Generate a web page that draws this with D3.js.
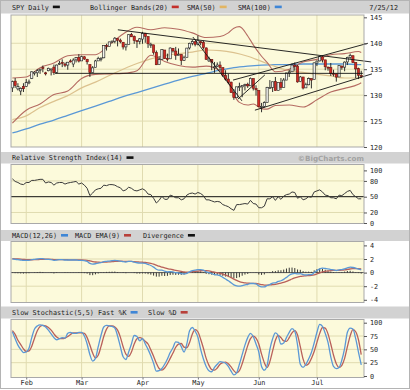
<!DOCTYPE html>
<html>
<head>
<meta charset="utf-8">
<script src="https://cdn.jsdelivr.net/npm/d3@7"></script>
<style>
  html, body { margin: 0; padding: 0; background: #fff; }
  svg { display: block; }
  text { font-family: "DejaVu Sans Mono", monospace; font-size: 6.8px; fill: #1e1e1e; }
</style>
</head>
<body>
<svg id="chart" width="410" height="390"></svg>
<script>
// ---- SPY daily, 25 Jan 2012 .. 25 Jul 2012 (trading-day index 0..126) ----
const opens = [131.4,132.7,131.2,130.8,131.7, 131.7,132.5,133.2,134.2,134.3, 134.8,135.3,134.3,134.7,134.9,
  135.4,134.4,136.1,136.3,136.0, 135.8,136.6,136.0,136.8,137.3, 136.6,137.4,136.9,135.9,134.4,
  135.3,136.6,137.1,137.2,139.6, 139.4,140.3,140.4,140.9,140.6, 140.2,139.3,139.8,141.7,141.3,
  140.5,140.4,140.8,141.9,141.3, 139.8,139.7,138.2,135.9,136.9, 138.7,137.1,137.0,139.0,138.5,
  137.7,137.8,136.7,137.3,139.1, 140.0,140.3,139.8,140.3,140.2, 139.1,136.6,136.9,135.4,135.5,
  135.8,135.3,133.8,133.1,132.5, 130.5,129.5,131.6,131.6,131.9, 132.1,131.8,133.2,131.3,130.9,
  127.8,127.8,128.6,131.5,131.5, 132.6,130.9,132.4,131.5,132.9, 134.3,134.5,135.8,135.6,132.6,
  133.5,131.4,132.0,133.2,133.0, 136.2,136.6,137.4,136.8,135.4, 135.3,134.2,134.1,133.5,135.6,
  135.4,136.4,137.3,137.6,136.3, 135.1,133.8];
const highs = [132.8,133.3,132.3,131.5,132.3, 133.1,133.0,134.6,134.6,135.0, 135.1,135.7,134.5,135.3,135.1,
  135.9,135.9,136.6,136.9,136.3, 136.4,136.9,137.1,137.3,137.9, 137.6,137.5,137.0,135.9,135.6,
  136.8,137.4,137.3,139.6,139.9, 140.3,140.5,141.2,140.9,140.9, 140.2,139.9,141.7,142.0,141.5,
  140.5,141.0,142.2,142.0,141.3, 140.1,139.7,138.6,137.5,138.8, 138.7,138.0,139.2,139.1,139.3,
  139.0,137.9,137.6,139.1,140.1, 140.6,140.4,141.5,140.4,140.5, 139.2,137.4,136.9,136.4,136.3,
  136.5,135.3,134.8,134.1,132.6, 131.2,131.6,132.4,131.9,132.2, 132.4,133.4,133.2,131.9,130.9,
  128.5,128.8,131.6,132.9,132.6, 133.5,132.4,133.3,133.3,134.3, 134.9,136.1,136.3,135.8,133.7,
  133.5,132.4,133.4,133.2,136.3, 136.7,137.5,137.6,136.8,135.5, 136.2,134.9,134.1,135.7,135.7,
  136.5,137.4,138.0,137.6,136.3, 135.3,134.7];
const lows = [130.6,131.4,130.9,130.0,130.6, 131.6,132.1,133.1,133.8,133.5, 134.1,134.4,133.8,134.6,133.8,
  133.9,134.2,135.8,135.4,135.4, 134.9,136.3,135.4,136.3,136.3, 136.6,136.8,135.9,133.5,134.4,
  135.3,136.6,136.5,137.1,138.6, 139.4,140.0,140.0,139.4,140.0, 138.8,138.6,139.8,141.2,139.9,
  139.1,139.8,139.9,140.1,139.1, 139.1,137.8,135.8,135.9,136.8, 137.0,136.5,137.0,138.2,136.8,
  137.7,135.8,136.6,137.3,138.8, 139.6,139.4,139.6,139.6,138.8, 136.8,136.4,134.8,134.3,135.4,
  134.8,133.5,132.8,132.1,130.5, 129.1,129.5,130.8,129.6,130.9, 131.4,131.8,130.9,129.9,127.7,
  126.7,127.6,128.6,131.3,130.6, 130.9,130.9,131.0,131.5,132.9, 133.5,134.5,134.7,132.4,132.5,
  131.1,131.4,131.9,131.3,133.0, 135.6,136.5,136.3,134.8,134.7, 133.7,133.6,132.6,133.5,134.9,
  134.6,135.8,137.0,136.2,133.3, 133.1,133.3];
const closes = [132.61,131.84,131.63,131.30,131.24, 132.41,132.55,134.49,134.43,134.71, 135.00,135.20,134.26,135.18,135.05,
  134.32,135.80,136.12,136.22,135.77, 136.35,136.57,136.76,137.22,136.57, 137.41,136.96,136.43,134.34,135.26,
  136.59,137.09,137.11,139.60,139.43, 140.26,140.42,140.98,140.55,140.29, 139.28,139.71,141.65,141.25,140.55,
  140.33,140.85,141.90,141.34,139.90, 139.81,138.22,135.86,136.87,138.76, 137.03,136.96,139.08,138.51,137.69,
  137.85,136.69,137.20,139.07,140.00, 140.34,139.79,140.58,140.23,139.16, 136.91,136.96,136.37,135.46,135.80,
  135.34,133.84,133.07,132.48,130.49, 129.52,131.60,131.66,131.89,132.07, 131.78,133.24,131.33,131.03,127.80,
  127.82,128.55,131.51,131.50,132.57, 130.89,132.42,131.49,132.91,134.28, 134.48,135.80,135.57,132.55,133.50,
  131.37,132.00,133.19,132.90,136.22, 136.55,137.40,136.76,135.47,135.25, 134.15,134.15,133.48,135.68,135.36,
  136.37,137.28,137.65,136.27,135.05, 133.83,133.79];

// Bollinger Bands (20) sampled on these trading days
const bandDays = [0,5,10,15,20,25,30,35,40,45,50,55,60,65,70,75,78,80,82,85,87,90,92,95,100,105,110,115,120,125,126];
const bbUpper = [133.3,133.5,135.3,136.2,137.6,137.8,137.8,139.7,141.8,143.1,142.6,143.0,142.7,142.0,141.1,141.3,
  142.0,142.9,143.2,141.4,139.7,137.5,136.3,134.5,135.0,136.4,136.9,137.8,138.0,138.4,138.2];
const bbLower = [124.6,127.1,128.3,130.1,130.8,133.2,134.0,134.1,134.2,134.7,137.7,136.5,135.7,135.4,135.6,134.7,
  132.5,130.1,128.6,128.1,128.3,127.4,127.3,128.0,128.1,127.7,129.1,130.6,131.3,132.1,132.4];

// Moving averages sampled every fifth trading day
const smaDays = [0,5,10,15,20,25,30,35,40,45,50,55,60,65,70,75,80,85,90,95,100,105,110,115,120,125,126];
const sma50 = [125.3,126.0,127.6,128.8,129.9,131.4,132.5,133.8,135.0,136.1,137.0,137.6,138.0,138.3,138.7,138.6,
  138.2,137.5,136.5,135.5,134.7,134.4,134.0,133.7,133.3,133.3,133.3];
const sma100 = [122.7,123.5,124.4,125.2,126.1,127.0,127.9,128.8,129.7,130.5,131.3,132.1,132.9,133.6,134.2,134.8,
  135.3,135.6,135.8,135.9,135.9,136.0,136.0,136.0,136.0,135.9,135.9];

// Trend lines: [start day, start price, end day, end price]
const trendLines = [
  [15.4, 134.2, 126.6, 134.2],
  [38.1, 142.6, 129.6, 136.4],
  [65.2, 141.2, 82.9, 128.9],
  [79.7, 132.9, 128.4, 140.0],
  [87.6, 127.1, 129.9, 134.1],
  [81.5, 129.25, 91.2, 133.9]
];

// Relative Strength Index (14), one value per day
const rsi14 = [84,79,77,74,73, 77,77,81,81,82, 83,83,76,78,77, 72,76,77,77,74, 76,77,78,79,74,
  76,72,66,52,57, 63,65,66,72,71, 73,73,72,69,67, 61,63,68,66,62, 61,63,65,62,55,
  54,47,38,43,51, 45,45,53,51,48, 48,44,46,53,56, 57,55,58,56,52, 44,44,42,40,41,
  40,35,33,31,27, 24,35,35,36,37, 36,43,37,36,29, 29,32,46,46,50, 43,50,45,51,54,
  55,59,58,47,50, 44,46,50,49,59, 61,63,59,53,52, 48,48,46,53,52, 56,60,62,54,50, 46,46];

// MACD (12,26) and its EMA (9)
const macdLine = [2.0,1.95,1.9,1.85,1.8, 1.8,1.8,1.9,1.95,2.0, 2.05,2.05,1.95,1.95,1.9, 1.8,1.85,1.9,1.9,1.85,
  1.85,1.85,1.85,1.85,1.8, 1.8,1.75,1.65,1.35,1.25, 1.3,1.4,1.45,1.6,1.65, 1.7,1.75,1.8,1.75,1.7,
  1.6,1.55,1.65,1.65,1.55, 1.45,1.4,1.4,1.35,1.2, 1.05,0.8,0.5,0.35,0.35, 0.2,0.1,0.15,0.1,0.0,
  -0.05,-0.15,-0.2,-0.1,0.1, 0.3,0.35,0.45,0.45,0.35, 0.1,0.0,-0.15,-0.3,-0.35, -0.45,-0.7,-0.95,-1.2,-1.5,
  -1.8,-1.95,-2.0,-1.9,-1.8, -1.75,-1.6,-1.6,-1.65,-1.95, -2.1,-2.1,-1.9,-1.75,-1.55, -1.5,-1.3,-1.2,-1.0,-0.7,
  -0.4,-0.2,-0.1,-0.2,-0.15, -0.3,-0.35,-0.3,-0.3,0.0, 0.3,0.55,0.65,0.6,0.55, 0.45,0.4,0.3,0.4,0.45,
  0.55,0.7,0.8,0.75,0.65, 0.5,0.4];
const signalLine = [2.05,2.03,2.0,1.97,1.94, 1.91,1.89,1.89,1.9,1.92, 1.94,1.96,1.96,1.96,1.95, 1.92,1.91,1.91,1.91,1.9,
  1.89,1.88,1.88,1.87,1.86, 1.85,1.83,1.8,1.72,1.63, 1.56,1.53,1.51,1.53,1.55, 1.58,1.61,1.65,1.67,1.68,
  1.66,1.64,1.64,1.64,1.62, 1.59,1.55,1.52,1.49,1.43, 1.35,1.24,1.09,0.94,0.82, 0.7,0.58,0.5,0.42,0.34,
  0.26,0.18,0.1,0.06,0.08, 0.13,0.18,0.23,0.27,0.29, 0.28,0.24,0.16,0.07,-0.02, -0.1,-0.22,-0.37,-0.54,-0.73,
  -0.95,-1.15,-1.32,-1.44,-1.51, -1.56,-1.57,-1.58,-1.6,-1.67, -1.76,-1.83,-1.84,-1.82,-1.77, -1.72,-1.64,-1.55,-1.44,-1.3,
  -1.12,-0.94,-0.77,-0.66,-0.56, -0.51,-0.48,-0.44,-0.41,-0.33, -0.2,-0.05,0.09,0.19,0.26, 0.3,0.32,0.32,0.34,0.36,
  0.4,0.46,0.53,0.58,0.59, 0.57,0.54];

// Slow Stochastic (5,5)
const fastK = [83,70,58,50,44, 45,52,72,88,94, 96,95,92,86,79, 72,68,70,72,71, 80,82,80,80,82,
  82,75,60,40,28, 33,55,76,92,95, 94,93,90,75,55, 36,31,45,60,76, 74,66,70,60,50,
  38,24,9,10,14, 22,32,44,53,64, 63,55,45,60,85, 91,84,73,50,32, 18,10,8,16,22,
  27,26,24,18,9, 2,6,22,40,58, 72,80,74,60,45, 18,11,20,50,70, 81,76,60,62,72,
  82,89,84,58,22, 16,22,32,44,62, 82,97,93,80,63, 36,18,14,16,30, 52,82,90,88,70, 45,21];
const slowD = [85,78,67,59,51, 46,47,56,71,85, 93,95,94,91,86, 79,73,70,70,71, 74,78,81,81,81,
  81,80,72,58,43, 34,39,55,74,88, 94,94,92,86,73, 55,41,37,45,60, 70,72,70,65,60,
  49,37,24,14,11, 15,23,33,43,54, 60,61,54,53,63, 79,87,83,69,52, 33,20,12,11,15,
  22,25,26,23,17, 10,6,10,23,40, 57,70,75,71,60, 41,25,16,27,47, 67,76,72,66,65,
  72,81,85,77,55, 32,20,23,33,46, 63,80,91,90,79, 60,39,23,16,20, 33,55,75,87,83, 68,40];

// Axis labels
const monthLabels = ["Feb", "Mar", "Apr", "May", "Jun", "Jul"];
const monthStarts = [5, 25, 47, 67, 89, 110];
const priceTicks = [145, 140, 135, 130, 125, 120];
const priceGrid = [140, 135, 130, 125];
const rsiTicks = [100, 80, 50, 20, 0];
const rsiGrid = [80, 20];
const macdTicks = [4, 2, 0, -2, -4];
const macdGrid = [2, -2];
const stochTicks = [100, 75, 50, 25, 0];
const stochGrid = [75, 50, 25];

// ---------------------------------------------------------------
const svg = d3.select("#chart");
const L = 11, R = 364;
const x = d3.scaleLinear().domain([-0.5, 127]).range([L, R]);

const panels = {
  price: { top: 15, bottom: 147 },
  rsi:   { top: 164.5, bottom: 223.5 },
  macd:  { top: 241.5, bottom: 302.5 },
  stoch: { top: 319.5, bottom: 377.5 }
};
const yPrice = d3.scaleLinear().domain([120, 145.45]).range([147, 15]);
const yRsi = d3.scaleLinear().domain([0, 100]).range([223, 170.4]);
const yMacd = d3.scaleLinear().domain([-4.5, 4.5]).range([303.2, 242]);
const yStoch = d3.scaleLinear().domain([0, 100]).range([376, 322.7]);

const PLOT_BG = "#fcfadb", GRID = "#e0dbb0", BORDER = "#a9a9a9";
const BLUE = "#5a98d6", RED = "#b9605a", TAN = "#dcc28f", BB = "#b56b62";

// outer frame
svg.append("rect").attr("x", 0.5).attr("y", 0.5).attr("width", 409).attr("height", 388)
  .attr("fill", "#fff").attr("stroke", "#b4b4b4");

// header strips
[[1, 13.5], [152, 163.5], [230, 241], [306.5, 318.5]].forEach(([a, b]) => {
  svg.append("rect").attr("x", 1).attr("y", a).attr("width", 408).attr("height", b - a).attr("fill", "#d2d2d2");
});

function panelFrame(p, yScale, gridVals) {
  const g = svg.append("g");
  g.append("rect").attr("x", L).attr("y", p.top).attr("width", R - L).attr("height", p.bottom - p.top)
    .attr("fill", PLOT_BG);
  g.selectAll("line.v").data(monthStarts).join("line")
    .attr("x1", d => x(d)).attr("x2", d => x(d)).attr("y1", p.top).attr("y2", p.bottom)
    .attr("stroke", GRID).attr("stroke-width", 1);
  g.selectAll("line.h").data(gridVals).join("line")
    .attr("x1", L).attr("x2", R).attr("y1", d => yScale(d)).attr("y2", d => yScale(d))
    .attr("stroke", GRID).attr("stroke-width", 1);
  return g;
}
function panelBorder(p) {
  svg.append("rect").attr("x", L).attr("y", p.top).attr("width", R - L).attr("height", p.bottom - p.top)
    .attr("fill", "none").attr("stroke", BORDER).attr("stroke-width", 1);
}
function rightAxis(scale, ticks) {
  const g = svg.append("g").attr("transform", `translate(${R},0)`)
    .call(d3.axisRight(scale).tickValues(ticks).tickSize(3).tickPadding(3).tickFormat(d => String(d)));
  g.select(".domain").remove();
  g.attr("font-family", null).attr("font-size", null);
  g.selectAll("line").attr("stroke", "#555");
  g.selectAll("text").attr("fill", "#1e1e1e");
}
function clipFor(id, p) {
  svg.append("clipPath").attr("id", id).append("rect")
    .attr("x", L).attr("y", p.top).attr("width", R - L).attr("height", p.bottom - p.top);
}

// ---------------- price panel ----------------
panelFrame(panels.price, yPrice, priceGrid);
clipFor("clipPrice", panels.price);
const priceG = svg.append("g").attr("clip-path", "url(#clipPrice)");

const sampled = (days, vals) => days.map((d, i) => ({ d, v: vals[i] }));
const smoothLine = ys => d3.line().x(p => x(p.d)).y(p => ys(p.v)).curve(d3.curveMonotoneX);

priceG.append("path").datum(sampled(smaDays, sma100)).attr("d", smoothLine(yPrice))
  .attr("fill", "none").attr("stroke", BLUE).attr("stroke-width", 1.3);
priceG.append("path").datum(sampled(smaDays, sma50)).attr("d", smoothLine(yPrice))
  .attr("fill", "none").attr("stroke", TAN).attr("stroke-width", 1.2);
[bbUpper, bbLower].forEach(arr => {
  priceG.append("path").datum(sampled(bandDays, arr)).attr("d", smoothLine(yPrice))
    .attr("fill", "none").attr("stroke", BB).attr("stroke-width", 1.1);
});

const days = d3.range(closes.length);
const candles = priceG.selectAll("g.candle").data(days).join("g");
candles.append("line")
  .attr("x1", i => x(i)).attr("x2", i => x(i))
  .attr("y1", i => yPrice(highs[i])).attr("y2", i => yPrice(lows[i]))
  .attr("stroke", "#1a1a1a").attr("stroke-width", 0.9);
candles.append("rect")
  .attr("x", i => x(i) - 1.1).attr("width", 2.2)
  .attr("y", i => yPrice(Math.max(opens[i], closes[i])))
  .attr("height", i => Math.max(1, Math.abs(yPrice(opens[i]) - yPrice(closes[i]))))
  .attr("fill", i => closes[i] >= opens[i] ? "#f4f4f0" : "#d22a24")
  .attr("stroke", i => closes[i] >= opens[i] ? "#1a1a1a" : "#6a1410")
  .attr("stroke-width", 0.6);

// trend lines
svg.append("g").selectAll("line").data(trendLines).join("line")
  .attr("x1", d => x(d[0])).attr("y1", d => yPrice(d[1]))
  .attr("x2", d => x(d[2])).attr("y2", d => yPrice(d[3]))
  .attr("stroke", "#111").attr("stroke-width", 0.9);

panelBorder(panels.price);
rightAxis(yPrice, priceTicks);

// ---------------- RSI panel ----------------
panelFrame(panels.rsi, yRsi, rsiGrid);
svg.append("line").attr("x1", L).attr("x2", R).attr("y1", yRsi(50)).attr("y2", yRsi(50))
  .attr("stroke", "#111").attr("stroke-width", 1);
svg.append("path").datum(rsi14)
  .attr("d", d3.line().x((v, i) => x(i)).y(v => yRsi(v)))
  .attr("fill", "none").attr("stroke", "#3a3a3a").attr("stroke-width", 1);
panelBorder(panels.rsi);
rightAxis(yRsi, rsiTicks);

// ---------------- MACD panel ----------------
panelFrame(panels.macd, yMacd, macdGrid);
const divergence = macdLine.map((m, i) => m - signalLine[i]);
svg.append("line").attr("x1", L).attr("x2", R).attr("y1", yMacd(0)).attr("y2", yMacd(0))
  .attr("stroke", "#555").attr("stroke-width", 1);
svg.append("g").selectAll("line").data(divergence).join("line")
  .attr("x1", (d, i) => x(i)).attr("x2", (d, i) => x(i))
  .attr("y1", yMacd(0)).attr("y2", d => yMacd(d))
  .attr("stroke", "#222").attr("stroke-width", 0.9);
svg.append("path").datum(signalLine)
  .attr("d", d3.line().x((v, i) => x(i)).y(v => yMacd(v)).curve(d3.curveMonotoneX))
  .attr("fill", "none").attr("stroke", RED).attr("stroke-width", 1.3);
svg.append("path").datum(macdLine)
  .attr("d", d3.line().x((v, i) => x(i)).y(v => yMacd(v)).curve(d3.curveMonotoneX))
  .attr("fill", "none").attr("stroke", BLUE).attr("stroke-width", 1.3);
panelBorder(panels.macd);
rightAxis(yMacd, macdTicks);

// ---------------- Stochastic panel ----------------
panelFrame(panels.stoch, yStoch, stochGrid);
svg.append("path").datum(slowD)
  .attr("d", d3.line().x((v, i) => x(i)).y(v => yStoch(v)).curve(d3.curveMonotoneX))
  .attr("fill", "none").attr("stroke", RED).attr("stroke-width", 1.3);
svg.append("path").datum(fastK)
  .attr("d", d3.line().x((v, i) => x(i)).y(v => yStoch(v)).curve(d3.curveMonotoneX))
  .attr("fill", "none").attr("stroke", BLUE).attr("stroke-width", 1.3);
panelBorder(panels.stoch);
rightAxis(yStoch, stochTicks);

// month axis
const xa = svg.append("g").attr("transform", `translate(0,${panels.stoch.bottom})`)
  .call(d3.axisBottom(x).tickValues(monthStarts).tickFormat((d, i) => monthLabels[i]).tickSize(2).tickPadding(1));
xa.select(".domain").remove();
xa.attr("font-family", null).attr("font-size", null);
xa.selectAll("line").attr("stroke", "#777");
xa.selectAll("text").attr("fill", "#1e1e1e");

// ---------------- header legends ----------------
function legend(items, baseline) {
  items.forEach(it => {
    const t = svg.append("text").attr("x", it.x).attr("y", baseline).text(it.label);
    if (it.color) {
      const w = t.node().getComputedTextLength();
      svg.append("rect").attr("x", it.x + w + 4).attr("y", baseline - 4).attr("width", 7).attr("height", 2.6)
        .attr("fill", it.color);
    }
  });
}
legend([
  { label: "SPY Daily", x: 12, color: "#111" },
  { label: "Bollinger Bands(20)", x: 90, color: "#c42f2a" },
  { label: "SMA(50)", x: 187, color: "#e2b562" },
  { label: "SMA(100)", x: 238, color: "#3f86d6" }
], 9.6);
svg.append("text").attr("x", 398).attr("y", 9.6).attr("text-anchor", "end").text("7/25/12");

legend([{ label: "Relative Strength Index(14)", x: 12, color: "#111" }], 160.3);
svg.append("text").attr("x", R).attr("y", 160.6).attr("text-anchor", "end")
  .style("font-family", "'DejaVu Sans', sans-serif").style("font-weight", "bold").style("font-size", "7.2px")
  .style("fill", "#a2a2a2").text("\u00a9BigCharts.com");

legend([
  { label: "MACD(12,26)", x: 12, color: "#3f86d6" },
  { label: "MACD EMA(9)", x: 75, color: "#b8403a" },
  { label: "Divergence", x: 143, color: "#111" }
], 238);

legend([
  { label: "Slow Stochastic(5,5) Fast %K", x: 12, color: "#3f86d6" },
  { label: "Slow %D", x: 148, color: "#b8403a" }
], 315);
</script>
</body>
</html>
